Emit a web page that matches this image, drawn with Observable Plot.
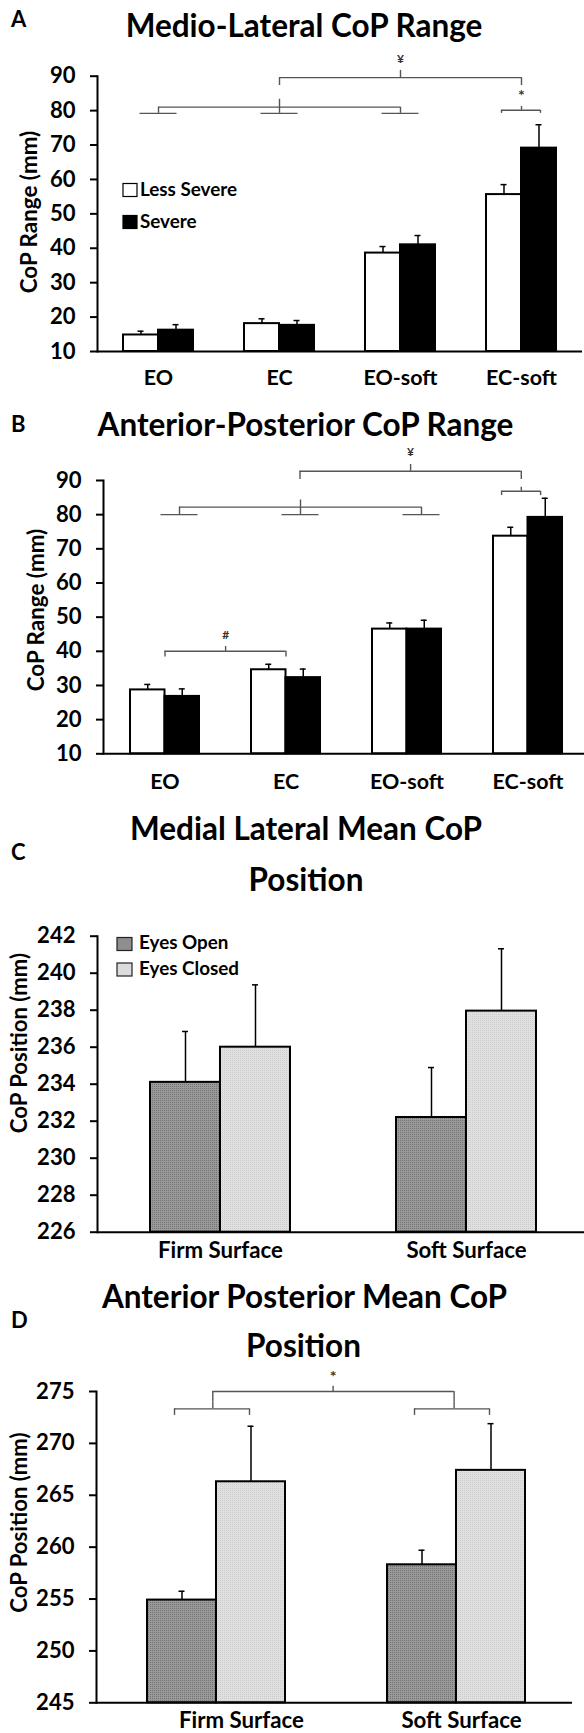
<!DOCTYPE html>
<html>
<head>
<meta charset="utf-8">
<script src="https://cdn.jsdelivr.net/npm/d3@7"></script>
<script src="https://cdn.jsdelivr.net/npm/@observablehq/plot@0.6"></script>
<style>
html, body { margin: 0; padding: 0; background: #fff; overflow: hidden; }
#page { position: relative; width: 584px; height: 1733px; overflow: hidden; background: #fff; }
#overlay { position: absolute; left: 0; top: 0; pointer-events: none; }
</style>
</head>
<body>
<div id="page"></div>
<script>
// ---------------- data ----------------
const rangeConditions = ["EO", "EC", "EO-soft", "EC-soft"];
const severityGroups = ["Less Severe", "Severe"];
const mlRangeLessSevere = [14.8, 18.1, 38.6, 55.6];
const mlRangeLessSevereSE = [1.1, 1.4, 1.9, 2.9];
const mlRangeSevere = [16.2, 17.6, 41.0, 69.1];
const mlRangeSevereSE = [1.6, 1.4, 2.7, 6.8];
const apRangeLessSevere = [28.7, 34.6, 46.5, 73.7];
const apRangeLessSevereSE = [1.6, 1.6, 1.8, 2.6];
const apRangeSevere = [26.8, 32.3, 46.5, 79.2];
const apRangeSevereSE = [2.2, 2.5, 2.6, 5.6];
const rangeTicks = [10, 20, 30, 40, 50, 60, 70, 80, 90];

const surfaces = ["Firm Surface", "Soft Surface"];
const visionGroups = ["Eyes Open", "Eyes Closed"];
const mlPosEyesOpen = [234.1, 232.2];
const mlPosEyesOpenSE = [2.75, 2.7];
const mlPosEyesClosed = [236.0, 237.95];
const mlPosEyesClosedSE = [3.37, 3.37];
const mlPosTicks = [226, 228, 230, 232, 234, 236, 238, 240, 242];
const apPosEyesOpen = [254.9, 258.3];
const apPosEyesOpenSE = [0.85, 1.4];
const apPosEyesClosed = [266.3, 267.4];
const apPosEyesClosedSE = [5.35, 4.5];
const apPosTicks = [245, 250, 255, 260, 265, 270, 275];

const panelLetters = ["A", "B", "C", "D"];
const panelTitles = [["Medio-Lateral CoP Range"], ["Anterior-Posterior CoP Range"],
                     ["Medial Lateral Mean CoP", "Position"], ["Anterior Posterior Mean CoP", "Position"]];
const yLabels = ["CoP Range (mm)", "CoP Range (mm)", "CoP Position (mm)", "CoP Position (mm)"];

// significance annotations (levels in data units)
const mlRangeMarkers = {cats: ["EO", "EC", "EO-soft"], level: 79.2};
const mlRangeBrackets = [
  {from: "EO", to: "EO-soft", mid: "EC", level: 81.0, end: 79.2, tipFrom: 79.2, tip: 83.3, symbol: "", symbolAt: 0},
  {from: "EC", to: "EC-soft", mid: "EO-soft", level: 89.6, end: 87.3, tipFrom: 89.6, tip: 91.7, symbol: "¥", symbolAt: 95.0},
  {from: "EC-soft", to: "EC-soft", mid: "EC-soft", level: 80.1, end: 79.2, tipFrom: 80.1, tip: 81.2, symbol: "*", symbolAt: 84.2}
];
const apRangeMarkers = {cats: ["EO", "EC", "EO-soft"], level: 80.0};
const apRangeBrackets = [
  {from: "EO", to: "EC", mid: "EO", level: 40.0, end: 38.3, tipFrom: 40.0, tip: 41.4, symbol: "#", symbolAt: 44.6},
  {from: "EO", to: "EO-soft", mid: "EC", level: 82.2, end: 80.0, tipFrom: 80.0, tip: 84.3, symbol: "", symbolAt: 0},
  {from: "EC", to: "EC-soft", mid: "EO-soft", level: 92.7, end: 90.3, tipFrom: 92.7, tip: 94.7, symbol: "¥", symbolAt: 98.2},
  {from: "EC-soft", to: "EC-soft", mid: "EC-soft", level: 86.85, end: 85.6, tipFrom: 86.85, tip: 88.0, symbol: "", symbolAt: 0}
];
const apPosBrackets = [
  {from: "Firm Surface", to: "Soft Surface", mid: "Firm Surface", level: 275.0, end: 274.0, tipFrom: 275.0, tip: 275.5, symbol: "*", symbolAt: 276.4},
  {from: "Firm Surface", to: "Firm Surface", mid: "Firm Surface", level: 273.33, end: 272.7, tipFrom: 273.33, tip: 274.0, symbol: "", symbolAt: 0},
  {from: "Soft Surface", to: "Soft Surface", mid: "Soft Surface", level: 273.33, end: 272.7, tipFrom: 273.33, tip: 274.0, symbol: "", symbolAt: 0}
];

// ---------------- text sizing (fit widths seen in the figure) ----------------
const FONT = "Lato, 'Open Sans', 'DejaVu Sans', sans-serif";
const ctx = document.createElement("canvas").getContext("2d");
function fit(text, target) { ctx.font = `bold 100px ${FONT}`; return 100 * target / ctx.measureText(text).width; }
const avg = a => a.reduce((s, v) => s + v, 0) / a.length;
const TITLE = 1.01 * avg([fit(panelTitles[0][0], 352), fit(panelTitles[1][0], 411), fit(panelTitles[2][0], 355.5), fit(panelTitles[3][0], 404), fit("Position", 112.6)]);
const TICK = 1.08 * avg([fit("90", 23.3), fit("240", 36.2), fit("275", 35.6)]);
const XLAB_AB = 1.03 * avg([fit("EO-soft", 72), fit("EC-soft", 68.6)]);
const XLAB_CD = 1.02 * avg([fit("Firm Surface", 122), fit("Soft Surface", 118.3)]);
const YLAB_AB = 1.02 * fit("CoP Range (mm)", 160);
const YLAB_CD = 1.02 * fit("CoP Position (mm)", 177.5);
const LEG = 1.02 * avg([fit("Less Severe", 95), fit("Eyes Open", 88), fit("Eyes Closed", 98)]);

// ---------------- drawing ----------------
const BR = {stroke: "#555", strokeWidth: 1.4};
const page = document.getElementById("page");

function rows(cats, vals, errs) { return cats.map((c, i) => ({cat: c, v: vals[i], e: errs[i]})); }

function bracketMarks(list, offsets, bw) {
  const out = [];
  list.forEach((b, i) => {
    const o = offsets[i];
    out.push(
      Plot.ruleY([b], {x1: "from", x2: "to", y: "level", insetLeft: bw / 2 + o.f, insetRight: bw / 2 - o.t, ...BR}),
      Plot.ruleX([b], {x: "from", y1: "end", y2: "level", dx: o.f, ...BR}),
      Plot.ruleX([b], {x: "to", y1: "end", y2: "level", dx: o.t, ...BR}),
      Plot.ruleX([b], {x: "mid", y1: "tipFrom", y2: "tip", dx: o.m, ...BR})
    );
    if (b.symbol) out.push(Plot.text([b], {x: "mid", y: "symbolAt", text: "symbol", dx: o.m,
      fontSize: b.symbol === "*" ? 16 : 12, fontWeight: "bold", fill: "#333"}));
  });
  return out;
}

function markerMarks(m, bw, dx) {
  const w = 37;
  return [Plot.tickY(m.cats, {x: d => d, y: () => m.level, insetLeft: (bw - w) / 2 + dx, insetRight: (bw - w) / 2 - dx, ...BR})];
}

function panel(cfg) {
  const {cats, series, top, height, marginTop, marginBottom, marginLeft, marginRight, xRange, bw, yDomain, yTicks} = cfg;
  const step = (xRange[1] - xRange[0]) / cats.length;
  const pIn = 1 - bw / step;
  const base = yDomain[0];
  const [r0, r1] = series.map(s => rows(cats, s.values, s.errors));
  const half = bw / 2, q = bw / 4, cap = 3;
  const pad = cfg.xLabelBaseline - 0.71 * cfg.xLabelSize;
  const xAxisOpts = {tickSize: 0, tickPadding: pad, fontSize: cfg.xLabelSize, fontWeight: "bold", label: null};
  const xAxes = cfg.xLabelDx
    ? cats.map((c, i) => Plot.axisX([c], {...xAxisOpts, dx: cfg.xLabelDx[i]}))
    : [Plot.axisX(cats, xAxisOpts)];
  const marks = [
    Plot.barY(r0, {x: "cat", y1: () => base, y2: "v", fill: series[0].fill, stroke: "#000", strokeWidth: 2, insetLeft: 0, insetRight: half}),
    Plot.barY(r1, {x: "cat", y1: () => base, y2: "v", fill: series[1].fill, stroke: "#000", strokeWidth: 2, insetLeft: half, insetRight: 0}),
    Plot.ruleX(r0, {x: "cat", y1: "v", y2: d => d.v + d.e, dx: -q, strokeWidth: 1.5}),
    Plot.tickY(r0, {x: "cat", y: d => d.v + d.e, insetLeft: q - cap, insetRight: bw - q - cap, strokeWidth: 1.5}),
    Plot.ruleX(r1, {x: "cat", y1: "v", y2: d => d.v + d.e, dx: q, strokeWidth: 1.5}),
    Plot.tickY(r1, {x: "cat", y: d => d.v + d.e, insetLeft: bw - q - cap, insetRight: q - cap, strokeWidth: 1.5}),
    Plot.ruleY([base], {strokeWidth: 2}),
    Plot.frame({anchor: "left", strokeWidth: 2}),
    Plot.axisY(yTicks, {tickSize: 7, tickPadding: 15, fontSize: TICK, fontWeight: "bold", strokeWidth: 2, label: null}),
    ...xAxes,
    ...(cfg.extra ? cfg.extra(bw, step) : [])
  ];
  const svg = Plot.plot({
    width: 584, height, marginTop, marginBottom, marginLeft, marginRight,
    style: {fontFamily: FONT, background: "none", color: "#000", overflow: "visible"},
    x: {type: "band", domain: cats, range: xRange, paddingInner: pIn, paddingOuter: pIn / 2},
    y: {domain: yDomain},
    marks
  });
  if (cfg.defs) {
    const defs = document.createElementNS("http://www.w3.org/2000/svg", "defs");
    defs.innerHTML = cfg.defs;
    svg.insertBefore(defs, svg.firstChild);
  }
  svg.style.position = "absolute";
  svg.style.left = "0px";
  svg.style.top = top + "px";
  page.appendChild(svg);
}

function patternDefs(suffix) {
  return `<pattern id="open${suffix}" width="2" height="2" patternUnits="userSpaceOnUse">
      <rect width="2" height="2" fill="#9a9a9a"/><rect width="1" height="1" fill="#727272"/></pattern>
    <pattern id="closed${suffix}" width="2" height="2" patternUnits="userSpaceOnUse">
      <rect width="2" height="2" fill="#e0e0e0"/><rect width="1" height="1" fill="#cdcdcd"/></pattern>`;
}

// Panel A
panel({
  cats: rangeConditions,
  series: [{values: mlRangeLessSevere, errors: mlRangeLessSevereSE, fill: "#fff"},
           {values: mlRangeSevere, errors: mlRangeSevereSE, fill: "#000"}],
  top: 0, height: 400, marginTop: 75.7, marginBottom: 49, marginLeft: 97, marginRight: 2,
  xRange: [97, 582], bw: 70, yDomain: [10, 90], yTicks: rangeTicks,
  xLabelBaseline: 33, xLabelSize: XLAB_AB,
  extra: (bw, step) => [
    ...markerMarks(mlRangeMarkers, bw, 0),
    ...bracketMarks(mlRangeBrackets, [{f: 0, t: 0, m: 0}, {f: 0, t: 0, m: 0}, {f: -20, t: 19, m: 0}], bw)
  ]
});

// Panel B
panel({
  cats: rangeConditions,
  series: [{values: apRangeLessSevere, errors: apRangeLessSevereSE, fill: "#fff"},
           {values: apRangeSevere, errors: apRangeSevereSE, fill: "#000"}],
  top: 400, height: 400, marginTop: 80, marginBottom: 46.7, marginLeft: 103, marginRight: 0,
  xRange: [103, 588], bw: 69, yDomain: [10, 90], yTicks: rangeTicks,
  xLabelBaseline: 34.7, xLabelSize: XLAB_AB,
  extra: (bw, step) => [
    ...markerMarks(apRangeMarkers, bw, 14.5),
    ...bracketMarks(apRangeBrackets, [{f: 0, t: 0, m: step / 2}, {f: 14.5, t: 14.5, m: 14.5}, {f: 14, t: -6.7, m: 3.6}, {f: -26.4, t: 12.6, m: -6.7}], bw)
  ]
});

// Panel C
panel({
  cats: surfaces,
  series: [{values: mlPosEyesOpen, errors: mlPosEyesOpenSE, fill: "url(#openC)"},
           {values: mlPosEyesClosed, errors: mlPosEyesClosedSE, fill: "url(#closedC)"}],
  top: 800, height: 480, marginTop: 135.7, marginBottom: 48.3, marginLeft: 97, marginRight: 0,
  xRange: [97, 589], bw: 140, yDomain: [226, 242], yTicks: mlPosTicks,
  xLabelBaseline: 26, xLabelSize: XLAB_CD,
  defs: patternDefs("C")
});

// Panel D
panel({
  cats: surfaces,
  series: [{values: apPosEyesOpen, errors: apPosEyesOpenSE, fill: "url(#openD)"},
           {values: apPosEyesClosed, errors: apPosEyesClosedSE, fill: "url(#closedD)"}],
  top: 1280, height: 453, marginTop: 111, marginBottom: 30.7, marginLeft: 96, marginRight: 12,
  xRange: [96, 576], bw: 138, yDomain: [245, 275], yTicks: apPosTicks,
  xLabelBaseline: 25.5, xLabelSize: XLAB_CD, xLabelDx: [25, 5],
  defs: patternDefs("D"),
  extra: (bw, step) => bracketMarks(apPosBrackets, [{f: -3.7, t: -2.4, m: step / 2 - 3.4}, {f: -42, t: 33, m: -3.7}, {f: -42, t: 33, m: -2.4}], bw)
});

// ---------------- titles, axis titles, panel letters, legends ----------------
const ov = d3.select(page).append("svg").attr("id", "overlay")
  .attr("width", 584).attr("height", 1733)
  .style("font-family", FONT).style("font-weight", 700);
function txt(t, x, y, size, anchor = "start") {
  return ov.append("text").attr("x", x).attr("y", y).attr("font-size", size)
    .attr("text-anchor", anchor).attr("fill", "#000").text(t);
}
const letterBase = [27, 432, 860, 1328];
panelLetters.forEach((l, i) => txt(l, 11, letterBase[i], 22));
const titleLines = [[[304, 37]], [[305.5, 436]], [[306, 840], [306, 890.5]], [[304.5, 1308], [303.5, 1357]]];
panelTitles.forEach((lines, i) => lines.forEach((t, j) => txt(t, titleLines[i][j][0], titleLines[i][j][1], TITLE, "middle")));

// rotated y-axis titles, centred where the figure shows them
const yLabelCentres = [[29, 212], [36, 610], [19, 1043], [19, 1522.5]];
const yLabelSizes = [YLAB_AB, YLAB_AB, YLAB_CD, YLAB_CD];
yLabels.forEach((t, i) => {
  const [cx, cy] = yLabelCentres[i];
  ov.append("text").attr("transform", `translate(${cx},${cy}) rotate(-90)`)
    .attr("text-anchor", "middle").attr("dy", "0.36em")
    .attr("font-size", yLabelSizes[i]).attr("fill", "#000").text(t);
});

// legend A
const legA = [{y: 183.5, fill: "#fff", text: severityGroups[0], base: 196}, {y: 215.5, fill: "#000", text: severityGroups[1], base: 228}];
legA.forEach(d => {
  ov.append("rect").attr("x", 123).attr("y", d.y).attr("width", 14).attr("height", 13)
    .attr("fill", d.fill).attr("stroke", "#000").attr("stroke-width", 1.2);
  txt(d.text, 140, d.base, LEG);
});
// legend C
const legC = [{y: 937.5, fill: "#8e8e8e", text: visionGroups[0], base: 948.5}, {y: 963, fill: "#dcdcdc", text: visionGroups[1], base: 975}];
legC.forEach(d => {
  ov.append("rect").attr("x", 117).attr("y", d.y).attr("width", 15).attr("height", 13)
    .attr("fill", d.fill).attr("stroke", "#222").attr("stroke-width", 1.2);
  txt(d.text, 139, d.base, LEG);
});
</script>
</body>
</html>
